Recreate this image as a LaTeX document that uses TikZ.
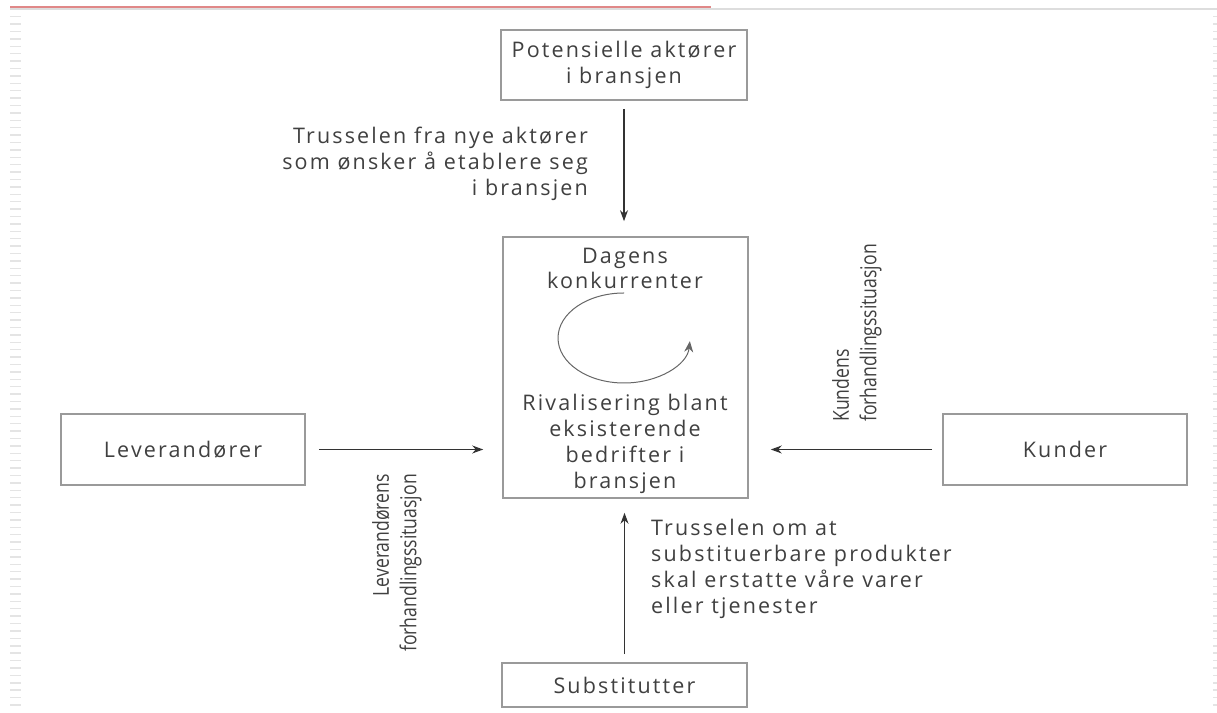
\documentclass[tikz,border=0pt]{standalone}
\usepackage{fontspec}
\setmainfont[LetterSpace=10]{Open Sans}
\newfontfamily\rotfont[FakeStretch=0.8]{Open Sans}
\usetikzlibrary{arrows.meta}
\definecolor{txt}{HTML}{404040}
\definecolor{boxc}{HTML}{9A9A9A}
\definecolor{arr}{HTML}{333333}
\definecolor{loopc}{HTML}{666666}
\definecolor{redl}{HTML}{E08888}
\definecolor{deco}{HTML}{DDDDDD}
\definecolor{dashc}{HTML}{E4E4E4}
\begin{document}
\begin{tikzpicture}[x=1pt,y=1pt,
  box/.style={draw=boxc, line width=1.6pt, inner sep=0pt, text=txt,
    font=\fontsize{21.5}{26.5}\selectfont, align=center},
  lbl/.style={text=txt, font=\fontsize{21.5}{25.8}\selectfont, inner sep=0pt},
  rlbl/.style={text=txt, font=\rotfont\fontsize{22}{27.5}\selectfont, inner sep=0pt, rotate=90},
  conn/.style={draw=arr, line width=1.1pt, -{Stealth[length=11pt,width=8pt]}},
]
\useasboundingbox (0,0) rectangle (1217,712);
% page decorations
\draw[deco, line width=2pt] (10,703) -- (1217,703);
\draw[redl, line width=2pt] (10,704.5) -- (711,704.5);
\draw[dashc, line width=11pt, dash pattern=on 1.5pt off 5.9pt] (15.5,696) -- (15.5,2);
\draw[dashc, line width=5pt, dash pattern=on 1.5pt off 5.9pt] (1215.5,696) -- (1215.5,2);
% boxes
\node[box, minimum width=246pt, minimum height=70pt] (pot) at (624,647) {Potensielle aktører\\i bransjen};
\node[box, minimum width=245pt, minimum height=261pt] (cen) at (625.5,344.5) {};
\node[box, minimum width=244pt, minimum height=71pt] (lev) at (183,262.5) {Leverandører};
\node[box, minimum width=244pt, minimum height=71pt] (kun) at (1065,262.5) {Kunder};
\node[box, minimum width=245pt, minimum height=44pt] (sub) at (624.5,27) {Substitutter};
% texts inside centre box
\node[lbl, align=center] (dag) at (625,443.5) {Dagens\\konkurrenter};
\node[lbl, align=center] (riv) at (625,268) {Rivalisering blant\\eksisterende\\bedrifter i\\bransjen};
% rivalry loop
\coordinate (loopstart) at (624,419);
\draw[draw=loopc, line width=1pt, -{Stealth[length=11pt,width=9pt]}] (loopstart)
  arc[start angle=90, end angle=356, x radius=66pt, y radius=45pt];
% labels
\node[lbl, anchor=east, align=right] (tnew) at (588,548)
  {Trusselen fra nye aktører\\som ønsker å etablere seg\\i bransjen};
\node[lbl, anchor=west, align=left] (tsub) at (651,143)
  {Trusselen om at\\substituerbare produkter\\skal erstatte våre varer\\eller tjenester};
\node[rlbl, anchor=east, align=right] (llev) at (397,238)
  {Leverandørens\\forhandlingssituasjon};
\node[rlbl, anchor=west, align=left] (lkun) at (857,290)
  {Kundens\\forhandlingssituasjon};
% connectors
\draw[conn, shorten <=8pt, shorten >=15pt] (pot.south) -- (pot.south |- cen.north);
\draw[conn, shorten <=13pt, shorten >=19pt] (lev.east) -- (lev.east -| cen.west);
\draw[conn, shorten <=10pt, shorten >=22pt] (kun.west) -- (kun.west -| cen.east);
\draw[conn, shorten <=8pt, shorten >=14pt] (sub.north) -- (sub.north |- cen.south);
\end{tikzpicture}
\end{document}
